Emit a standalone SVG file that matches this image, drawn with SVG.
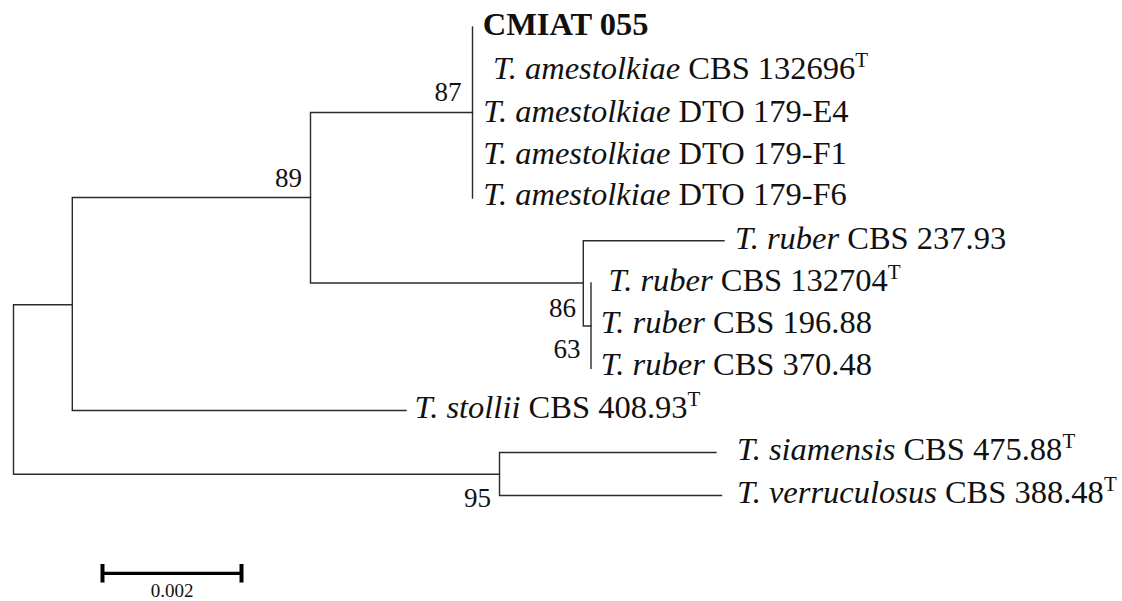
<svg xmlns="http://www.w3.org/2000/svg" width="1122" height="601" viewBox="0 0 1122 601">
  <style>
    .br { fill: none; stroke: #2b2b2b; stroke-width: 1.4; stroke-linecap: square; }
    .tx { font-family: "Liberation Serif", "Times New Roman", serif; font-size: 32.5px; fill: #111; }
    .sp { font-style: italic; }
    .sup { font-size: 21px; }
    .bs { font-family: "Liberation Serif", "Times New Roman", serif; font-size: 27px; fill: #111; text-anchor: end; }
    .bar { stroke: #000; fill: none; }
  </style>
  <rect width="1122" height="601" fill="#fff"/>

  <!-- branches of the tree -->
  <g id="connectors">
    <path class="br" d="M13.5,304.7 V474.3 M13.5,304.7 H72.3 M13.5,474.3 H499.5"/>
    <path class="br" d="M72.3,197.5 V410.5 M72.3,197.5 H310.5 M72.3,410.5 H406"/>
    <path class="br" d="M310.5,112.5 V283 M310.5,112.5 H472.5 M310.5,283 H583.3"/>
    <path class="br" d="M472.5,27 V198"/>
    <path class="br" d="M583.3,240.7 V326 M583.3,240.7 H724 M583.3,326 H591"/>
    <path class="br" d="M591,283 V368.3"/>
    <path class="br" d="M499.5,452.5 V495.5 M499.5,452.5 H716 M499.5,495.5 H721.5"/>
  </g>

  <!-- bootstrap support values -->
  <g id="support">
    <text class="bs" x="302" y="187">89</text>
    <text class="bs" x="461.5" y="101">87</text>
    <text class="bs" x="576" y="316.5">86</text>
    <text class="bs" x="580.5" y="358">63</text>
    <text class="bs" x="491" y="507">95</text>
  </g>

  <!-- terminal taxa -->
  <g id="taxon-cmiat055"><text class="tx" x="482.7" y="35" font-weight="bold">CMIAT 055</text></g>
  <g id="taxon-amestolkiae-cbs132696"><text class="tx" x="493" y="79"><tspan class="sp">T. amestolkiae</tspan> CBS 132696<tspan class="sup" dy="-12">T</tspan></text></g>
  <g id="taxon-amestolkiae-dto179e4"><text class="tx" x="483.3" y="121.5"><tspan class="sp">T. amestolkiae</tspan> DTO 179-E4</text></g>
  <g id="taxon-amestolkiae-dto179f1"><text class="tx" x="483.3" y="163.5"><tspan class="sp">T. amestolkiae</tspan> DTO 179-F1</text></g>
  <g id="taxon-amestolkiae-dto179f6"><text class="tx" x="483.3" y="205"><tspan class="sp">T. amestolkiae</tspan> DTO 179-F6</text></g>
  <g id="taxon-ruber-cbs23793"><text class="tx" x="735" y="249"><tspan class="sp">T. ruber</tspan> CBS 237.93</text></g>
  <g id="taxon-ruber-cbs132704"><text class="tx" x="608.5" y="291"><tspan class="sp">T. ruber</tspan> CBS 132704<tspan class="sup" dy="-12">T</tspan></text></g>
  <g id="taxon-ruber-cbs19688"><text class="tx" x="600.7" y="333"><tspan class="sp">T. ruber</tspan> CBS 196.88</text></g>
  <g id="taxon-ruber-cbs37048"><text class="tx" x="600.7" y="375"><tspan class="sp">T. ruber</tspan> CBS 370.48</text></g>
  <g id="taxon-stollii-cbs40893"><text class="tx" x="414.5" y="418"><tspan class="sp">T. stollii</tspan> CBS 408.93<tspan class="sup" dy="-12">T</tspan></text></g>
  <g id="taxon-siamensis-cbs47588"><text class="tx" x="737" y="460"><tspan class="sp">T. siamensis</tspan> CBS 475.88<tspan class="sup" dy="-12">T</tspan></text></g>
  <g id="taxon-verruculosus-cbs38848"><text class="tx" x="737" y="503"><tspan class="sp">T. verruculosus</tspan> CBS 388.48<tspan class="sup" dy="-12">T</tspan></text></g>

  <!-- scale bar -->
  <g id="scale-bar">
    <path class="bar" stroke-width="3.3" d="M101,573.3 H243"/>
    <path class="bar" stroke-width="4" d="M102.5,564 V582.5 M241.5,564 V582.5"/>
    <text x="172" y="597" font-family="Liberation Serif, Times New Roman, serif" font-size="19" text-anchor="middle" fill="#111">0.002</text>
  </g>
</svg>
